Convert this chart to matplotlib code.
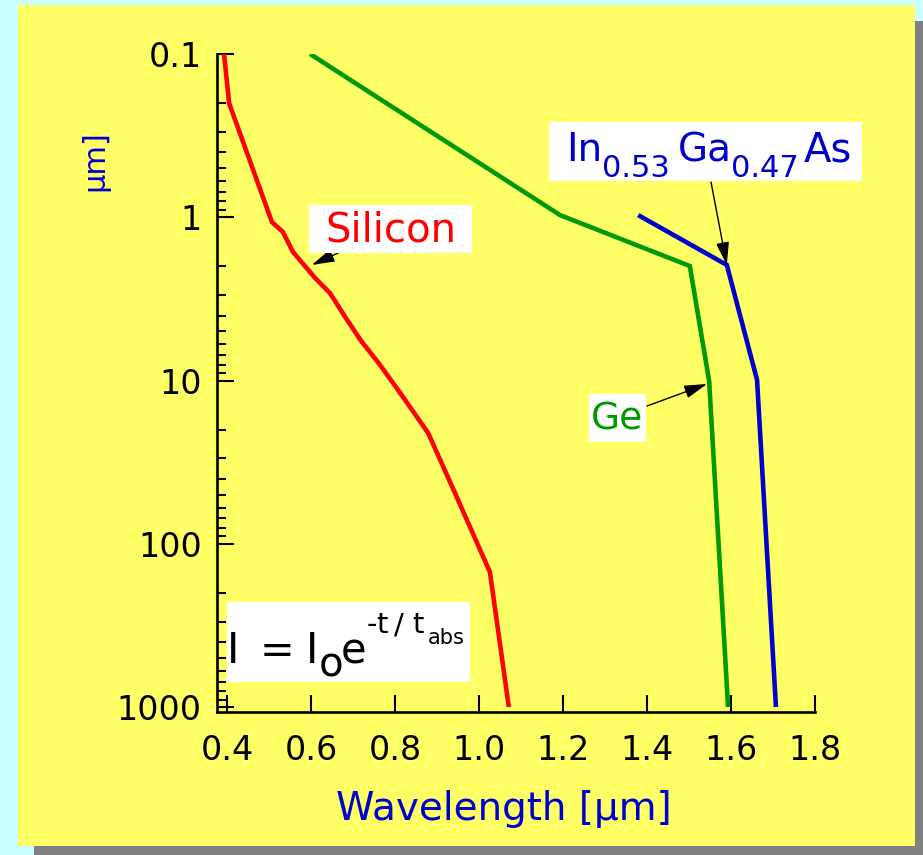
import matplotlib
matplotlib.use("Agg")
import matplotlib.pyplot as plt
from matplotlib.patches import Rectangle
from matplotlib.ticker import FixedLocator, LogLocator, NullFormatter

# ---- data ----
si_wl = [0.393, 0.405, 0.507, 0.533, 0.557, 0.610, 0.645, 0.686, 0.721, 0.764, 0.819, 0.879, 0.943, 1.026, 1.071]
si_t = [0.1, 0.2, 1.07, 1.23, 1.63, 2.36, 2.91, 4.26, 5.8, 8.0, 12.6, 21.0, 49.0, 149.0, 1000.0]

ge_wl = [0.598, 1.193, 1.502, 1.548, 1.593]
ge_t = [0.1, 0.97, 1.99, 10.1, 1000.0]

ingaas_wl = [1.379, 1.590, 1.662, 1.707]
ingaas_t = [0.97, 1.96, 9.9, 1000.0]

x_ticks = [0.4, 0.6, 0.8, 1.0, 1.2, 1.4, 1.6, 1.8]
x_ticklabels = ["0.4", "0.6", "0.8", "1.0", "1.2", "1.4", "1.6", "1.8"]
y_ticks = [0.1, 1, 10, 100, 1000]
y_ticklabels = ["0.1", "1", "10", "100", "1000"]

# ---- figure ----
W, H = 923, 855
fig = plt.figure(figsize=(W / 100, H / 100), dpi=100, facecolor="#CCFFFF")
plt.rcParams['font.family'] = ['DejaVu Sans']

def fx(px):
    return px / W

def fy(py):
    return 1 - py / H

def frect(x0, y0, x1, y1, color, z=0):
    fig.patches.append(Rectangle((fx(x0), fy(y1)), fx(x1) - fx(x0), fy(y0) - fy(y1),
                                 transform=fig.transFigure, facecolor=color,
                                 edgecolor="none", zorder=z))

# shadow and yellow panel
frect(34, 21, 940, 870, "#808080", z=0)
frect(18, 5, 915, 846, "#FFFF66", z=1)

ax = fig.add_axes([fx(217), fy(712), fx(815) - fx(217), fy(54) - fy(712)])
ax.set_facecolor("none")
ax.set_zorder(2)

RED = "#FF0000"
GREEN = "#009900"
BLUE = "#0000CC"

kw = dict(lw=3.3, solid_joinstyle="miter", solid_capstyle="butt")
ax.plot(si_wl, si_t, color=RED, **kw)
ax.plot(ge_wl, ge_t, color=GREEN, **kw)
ax.plot(ingaas_wl, ingaas_t, color=BLUE, **kw)

ax.set_yscale("log")
ax.set_xlim(0.3762, 1.8)
ax.set_ylim(1073, 0.1)

ax.xaxis.set_major_locator(FixedLocator(x_ticks))
ax.set_xticklabels(x_ticklabels)
ax.yaxis.set_major_locator(FixedLocator(y_ticks))
ax.set_yticklabels(y_ticklabels)
ax.yaxis.set_minor_locator(LogLocator(base=10, subs=range(2, 10)))
ax.yaxis.set_minor_formatter(NullFormatter())

for s in ["top", "right"]:
    ax.spines[s].set_visible(False)
for s in ["left", "bottom"]:
    ax.spines[s].set_linewidth(1.9)
    ax.spines[s].set_color("black")

ax.tick_params(axis="both", which="major", direction="in", length=12.5, width=1.5,
               labelsize=24, colors="black")
ax.tick_params(axis="y", which="minor", direction="in", length=6.5, width=1.5)
ax.tick_params(axis="x", which="major", pad=16)
ax.tick_params(axis="y", which="major", pad=11)

# axis titles
fig.text(fx(504), fy(809), "Wavelength [\u03bcm]", color=BLUE, fontsize=28,
         ha="center", va="center", zorder=5)
fig.text(fx(95), fy(161), "\u03bcm]", color=BLUE, fontsize=22, rotation=90,
         ha="center", va="center", zorder=5)

# label boxes
frect(309, 205, 472, 253, "white", z=3)
fig.text(fx(391), fy(230), "Silicon", color=RED, fontsize=29, ha="center", va="center", zorder=5)

frect(589, 394, 646, 442, "white", z=3)
fig.text(fx(617), fy(419), "Ge", color=GREEN, fontsize=27, ha="center", va="center", zorder=5)

frect(549, 122, 862, 181, "white", z=3)
for txt, x, base, size in [("In", 566, 161, 28), ("0.53", 602, 177, 22),
                           ("Ga", 678, 161, 28), ("0.47", 731, 177, 22),
                           ("As", 804, 161, 29)]:
    fig.text(fx(x), fy(base), txt, color=BLUE, fontsize=size, ha="left",
             va="baseline", zorder=5)

frect(227, 602, 470, 682, "white", z=3)
for txt, x, base, size in [("I", 227, 663, 30), ("=", 260, 663, 30), ("I", 306, 663, 30),
                           ("o", 319, 676, 29), ("e", 341, 663, 30),
                           ("-", 367, 633, 21), ("t", 376, 633, 21), ("/", 394, 633, 21),
                           ("t", 412, 633, 21), ("abs", 428, 644, 15)]:
    fig.text(fx(x), fy(base), txt, color="black", fontsize=size, ha="left",
             va="baseline", zorder=5)

# arrows
astyle = dict(arrowstyle="-|>,head_length=1.4,head_width=0.4", color="black",
              lw=1.0, mutation_scale=10, shrinkA=0, shrinkB=0)
ax.annotate("", xy=(0.602, 1.96), xycoords="data",
            xytext=(338, H - 253), textcoords="figure pixels", arrowprops=astyle)
ax.annotate("", xy=(1.590, 1.96), xycoords="data",
            xytext=(711, H - 182), textcoords="figure pixels", arrowprops=astyle)
ax.annotate("", xy=(1.543, 10.5), xycoords="data",
            xytext=(647, H - 406), textcoords="figure pixels", arrowprops=astyle)

fig.savefig("out.png", dpi=100, facecolor=fig.get_facecolor())
